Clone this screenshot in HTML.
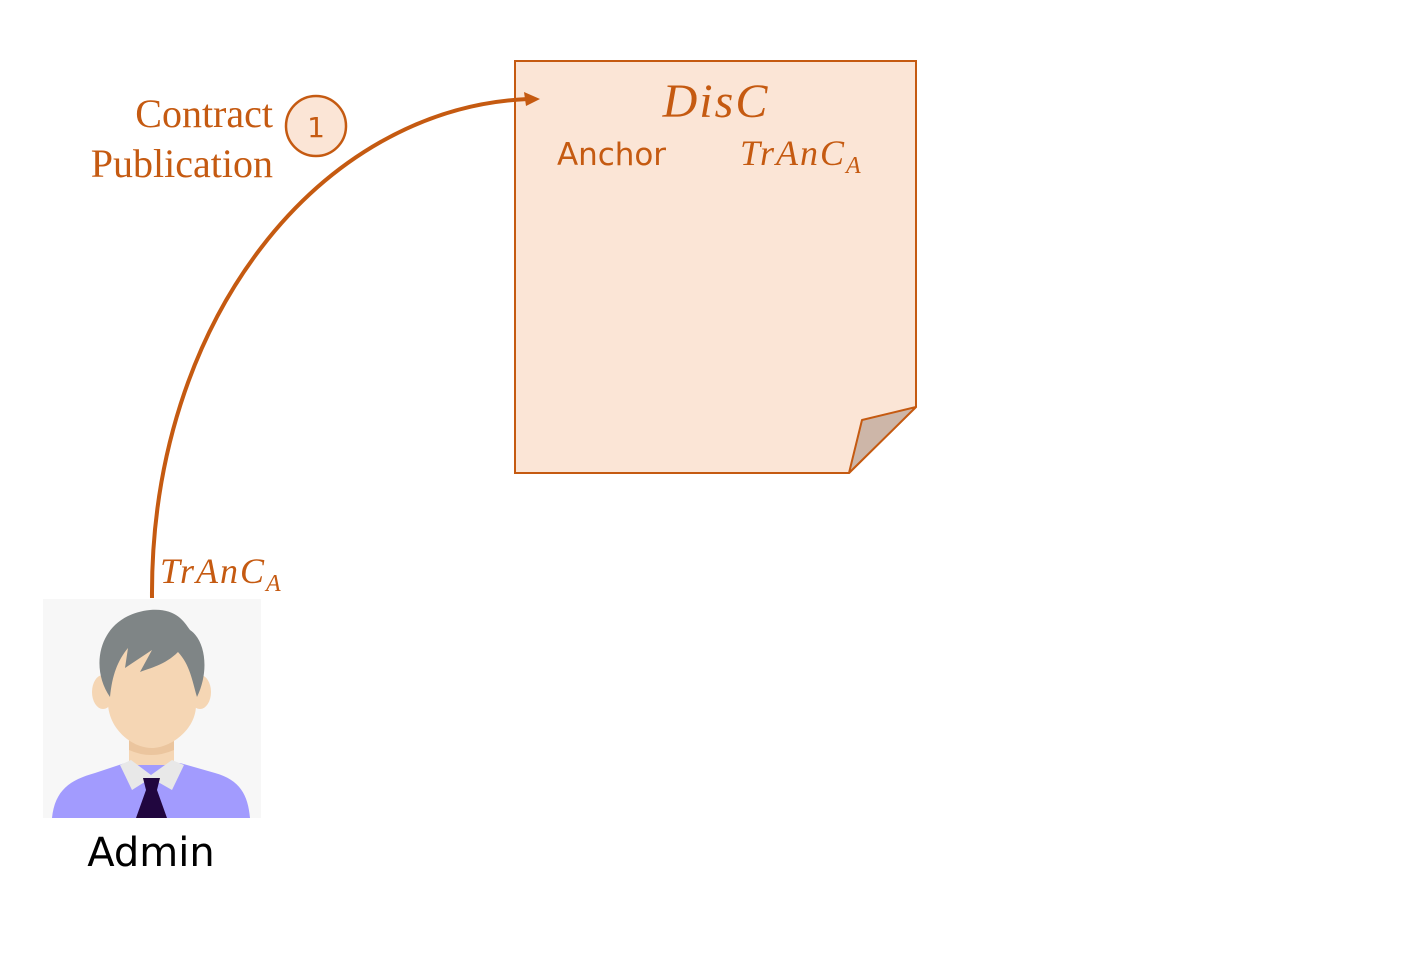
<!DOCTYPE html>
<html><head><meta charset="utf-8"><style>
html,body{margin:0;padding:0;background:#fff;}
svg{display:block;}
</style></head><body>
<svg width="1415" height="954" xmlns="http://www.w3.org/2000/svg">
<polygon points="515,61 916,61 916,407 849,473 515,473" fill="#FBE5D6" stroke="#C55A11" stroke-width="2"/>
<polygon points="849,473 862,420 916,407" fill="#CDB6A8" stroke="#C55A11" stroke-width="2" stroke-linejoin="round"/>
<text x="716" y="117" text-anchor="middle" font-family="Liberation Serif, serif" font-style="italic" font-size="48" fill="#C55A11" letter-spacing="2">DisC</text>
<text x="557" y="165" font-family="DejaVu Sans, sans-serif" font-size="31" fill="#C55A11" textLength="109">Anchor</text>
<text x="740" y="165" font-family="Liberation Serif, serif" font-style="italic" font-size="36" fill="#C55A11" letter-spacing="2">TrAnC<tspan font-size="24" dy="8">A</tspan></text>
<path d="M152,598 C150,320 320,108 528,99" fill="none" stroke="#C55A11" stroke-width="4"/>
<polygon points="540,99 524,92 526,106" fill="#C55A11"/>
<text x="273" y="127" text-anchor="end" font-family="Liberation Serif, serif" font-size="40" fill="#C55A11">Contract</text>
<text x="273" y="177" text-anchor="end" font-family="Liberation Serif, serif" font-size="40" fill="#C55A11">Publication</text>
<circle cx="316" cy="126" r="30" fill="#FBE5D6" stroke="#C55A11" stroke-width="2.5"/>
<text x="316" y="137" text-anchor="middle" font-family="DejaVu Sans, sans-serif" font-size="28" fill="#C55A11">1</text>
<text x="160" y="583" font-family="Liberation Serif, serif" font-style="italic" font-size="36" fill="#C55A11" letter-spacing="2">TrAnC<tspan font-size="24" dy="8">A</tspan></text>
<rect x="43" y="599" width="218" height="219" fill="#F7F7F7"/>
<path d="M52,818 C55,790 70,780 95,773 L125,763 L180,763 L215,773 C240,780 248,795 250,818 Z" fill="#A29BFE"/>
<rect x="129" y="730" width="45" height="35" fill="#F5D6B4"/>
<path d="M129,740 Q151,752 174,740 L174,750 Q151,760 129,750 Z" fill="#EBC59E"/>
<polygon points="120,765 131,760 151,775 172,760 184,765 172,790 151,778 132,790" fill="#E8E8E8"/>
<polygon points="143,778 160,778 157,790 167,818 136,818 146,790" fill="#21063F"/>
<ellipse cx="103" cy="692" rx="11" ry="17" fill="#F5D6B4"/>
<ellipse cx="200" cy="692" rx="11" ry="17" fill="#F5D6B4"/>
<path d="M108,660 C108,630 195,630 196,660 L196,705 C196,730 170,748 152,748 C132,748 110,730 108,705 Z" fill="#F5D6B4"/>
<path d="M110,697 C88,665 100,615 150,610 C175,608 183,620 190,630 C205,640 210,670 197,697 C192,680 190,665 178,652 C165,665 150,668 140,672 L152,650 L125,668 L128,648 C118,660 112,675 110,697 Z" fill="#7F8586"/>
<text x="151" y="866" text-anchor="middle" font-family="DejaVu Sans, sans-serif" font-size="40" fill="#000">Admin</text>
</svg>
</body></html>
